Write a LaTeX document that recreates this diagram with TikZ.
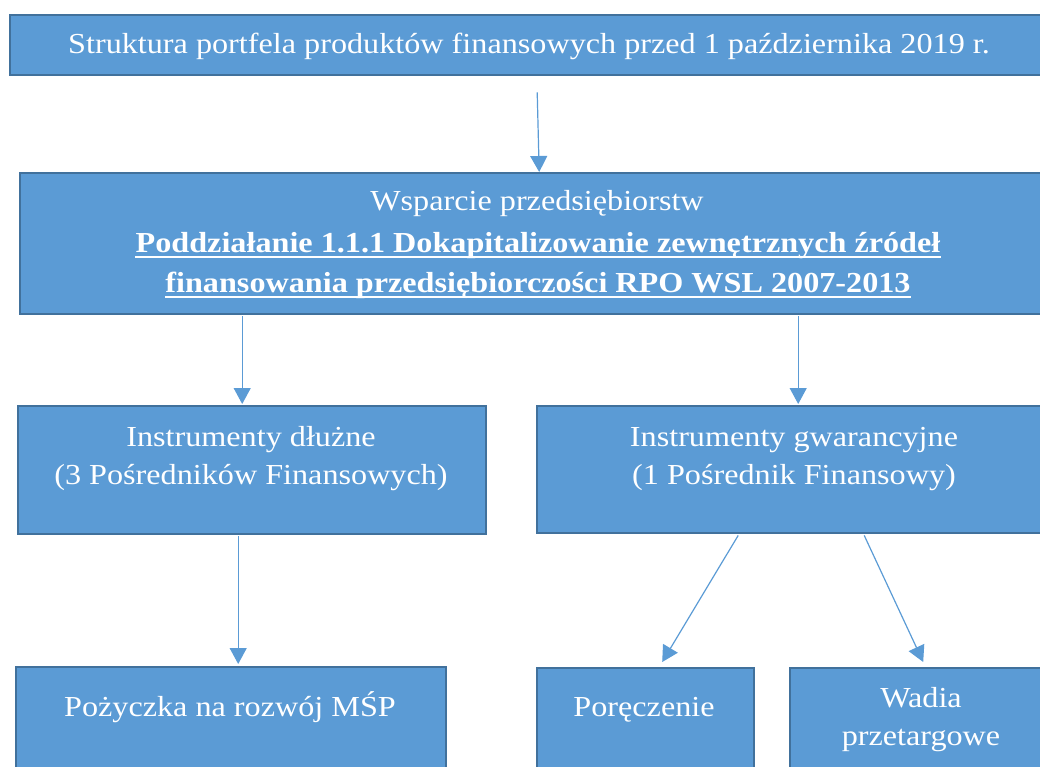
\documentclass[tikz,border=0pt]{standalone}
\usepackage{fontspec}
\setmainfont{Liberation Serif}[FakeStretch=1.11]
\usetikzlibrary{arrows.meta}
\definecolor{boxfill}{HTML}{5B9BD5}
\definecolor{boxline}{HTML}{41719C}
\begin{document}
\begin{tikzpicture}[x=1pt,y=-1pt,
  pbox/.style={draw=boxline, line width=2.4pt, fill=boxfill, rectangle, inner sep=0pt, anchor=north west},
  txt/.style={text=white, inner sep=0pt, anchor=base, font=\fontsize{29}{38}\selectfont},
  btxt/.style={txt, font=\fontsize{29}{38}\selectfont\bfseries},
  arr/.style={draw=boxfill, line width=1.2pt, -{Triangle[length=16pt,width=17pt]}}]
\useasboundingbox (0,0) rectangle (1040,767);
\clip (0,0) rectangle (1040,767);
% boxes
\node[pbox, minimum width=1041pt, minimum height=60pt] (top) at (9,14) {};
\node[pbox, minimum width=1036pt, minimum height=141pt] (wsp) at (19,172) {};
\node[pbox, minimum width=468pt, minimum height=128pt] (dl) at (17,405) {};
\node[pbox, minimum width=516pt, minimum height=127pt] (gw) at (536,405) {};
\node[pbox, minimum width=430pt, minimum height=130pt] (poz) at (15,666) {};
\node[pbox, minimum width=217pt, minimum height=130pt] (por) at (536,667) {};
\node[pbox, minimum width=264pt, minimum height=130pt] (wad) at (789,667) {};
% texts
\node[txt] (t1) at (529,54) {Struktura portfela produktów finansowych przed 1 października 2019 r.};
\node[txt] (w1) at (537,211) {Wsparcie przedsiębiorstw};
\node[btxt] (w2) at (538,252) {Poddziałanie 1.1.1 Dokapitalizowanie zewnętrznych źródeł};
\node[btxt] (w3) at (538,292) {finansowania przedsiębiorczości RPO WSL 2007-2013};
\draw[white, line width=1.8pt] ([yshift=-5pt]w2.base west) -- ([yshift=-5pt]w2.base east);
\draw[white, line width=1.8pt] ([yshift=-5pt]w3.base west) -- ([yshift=-5pt]w3.base east);
\node[txt] (d1) at (251,446) {Instrumenty dłużne};
\node[txt] (d2) at (251,484) {(3 Pośredników Finansowych)};
\node[txt] (g1) at (794,446) {Instrumenty gwarancyjne};
\node[txt] (g2) at (794,484) {(1 Pośrednik Finansowy)};
\node[txt] (p1) at (230,716) {Pożyczka na rozwój MŚP};
\node[txt] (r1) at (644,716) {Poręczenie};
\node[txt] (a1) at (921,707) {Wadia};
\node[txt] (a2) at (921,745) {przetargowe};
% arrows
\draw[arr] ([xshift=6.5pt,yshift=-16pt]top.south) -- ([xshift=1pt]wsp.north);
\draw[arr] ([xshift=-296pt,yshift=-1pt]wsp.south) -- ([xshift=-10pt,yshift=1pt]dl.north);
\draw[arr] ([xshift=260pt,yshift=-1pt]wsp.south) -- ([xshift=3pt,yshift=1pt]gw.north);
\draw[arr] ([xshift=-14pt,yshift=-1pt]dl.south) -- ([xshift=7pt,yshift=2pt]poz.north);
\draw[arr] ([xshift=-57pt,yshift=-1pt]gw.south) -- ([xshift=16.5pt,yshift=5pt]por.north);
\draw[arr] ([xshift=69pt,yshift=-1pt]gw.south) -- ([xshift=1pt,yshift=5pt]wad.north);
\end{tikzpicture}
\end{document}
